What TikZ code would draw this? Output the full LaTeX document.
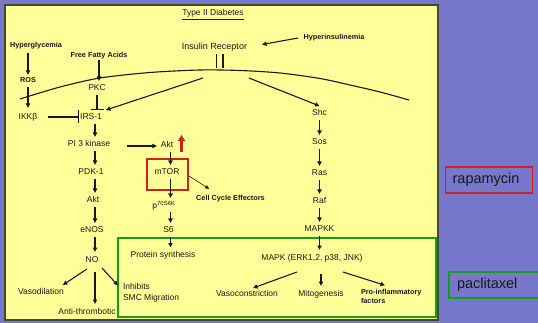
\documentclass[tikz,border=0pt]{standalone}
\usepackage{fontspec}
\setmainfont{Liberation Sans}
\usetikzlibrary{arrows.meta,calc}
\definecolor{bgpurple}{RGB}{119,119,204}
\definecolor{panelyellow}{RGB}{255,255,153}
\definecolor{boxgreen}{RGB}{20,160,20}
\definecolor{boxred}{RGB}{204,34,34}
\definecolor{panelborder}{RGB}{70,70,50}
\definecolor{txt}{RGB}{25,25,25}
\begin{document}
\begin{tikzpicture}[x=1pt,y=-1pt,
  lbl/.style={font=\fontsize{8.5}{10}\selectfont, text=txt, inner sep=0pt, outer sep=4pt, text height=6pt, text depth=0pt},
  blbl/.style={font=\fontsize{7.3}{9}\selectfont\bfseries, text=txt, inner sep=0pt, outer sep=2.5pt, text height=5.2pt, text depth=0pt},
  mlbl/.style={font=\fontsize{8.5}{11}\selectfont, text=txt, align=left, inner sep=0pt, outer sep=0pt},
  mblbl/.style={font=\fontsize{7.3}{9}\selectfont\bfseries, text=txt, align=left, inner sep=0pt, outer sep=0pt},
  arr/.style={-{Triangle[length=4.5pt,width=4.2pt]}, line width=1.1pt, draw=txt},
  thinarr/.style={-{Triangle[length=4pt,width=3.4pt]}, line width=0.6pt, draw=txt},
  inhib/.style={-{Bar[width=13pt]}, line width=1.2pt, draw=txt},
  redbox/.style={draw=boxred, line width=1.6pt, inner sep=0pt, outer sep=0pt},
  bigbox/.style={font=\fontsize{14.5}{17}\selectfont, text=txt, anchor=west, align=left, minimum height=26pt, text height=10.5pt, text depth=3pt}
]
\useasboundingbox (0,0) rectangle (538,323);
\fill[bgpurple] (0,0) rectangle (538,323);
\draw[panelborder, fill=panelyellow, line width=1.2pt] (5,5) rectangle (438,320);

% membrane
\draw[line width=1.1pt, txt] plot[smooth] coordinates {(20,99) (60,87) (100,78) (150,72.5) (200,70) (240,70.5) (280,73) (320,78.5) (350,85) (380,92) (409,100)};

% column coordinates
\coordinate (colL) at (95,0);
\coordinate (colM) at (170.5,0);

% nodes
\node[lbl] (title) at (213,13) {\underline{Type II Diabetes}};
\node[blbl] (hyperg) at (36,45) {Hyperglycemia};
\node[blbl] (ros) at (28,80) {ROS};
\node[lbl] (ikk) at (28,117) {IKKβ};
\node[blbl] (ffa) at (99,55) {Free Fatty Acids};
\node[lbl] (pkc) at (97,88) {PKC};
\node[lbl, font=\fontsize{9}{11}\selectfont] (ins) at (214.5,47) {Insulin Receptor};
\node[blbl] (hypi) at (334,37) {Hyperinsulinemia};
\node[lbl] (irs) at (91,117) {IRS-1};
\node[lbl] (pik) at (89,144) {PI 3 kinase};
\node[lbl] (pdk) at (91,172) {PDK-1};
\node[lbl] (akta) at (93,200) {Akt};
\node[lbl] (enos) at (92,230) {eNOS};
\node[lbl] (no) at (92,259) {NO};
\node[lbl] (vaso) at (41,291) {Vasodilation};
\node[lbl] (anti) at (87,311) {Anti-thrombotic};
\node[mlbl, anchor=west] (smc) at (123,292.5) {Inhibits\\SMC Migration};
\node[lbl] (aktb) at (167,145) {Akt};
\node[lbl] (mtor) at (167,172) {mTOR};
\node[redbox, minimum width=41pt, minimum height=31pt] (mtorbox) at (167.5,174.5) {};
\node[lbl] (p70) at (164,205) {p\textsuperscript{70S6K}};
\node[lbl] (s6) at (168.5,230) {S6};
\node[lbl] (prot) at (163,254.5) {Protein synthesis};
\node[blbl] (cce) at (230.5,198) {Cell Cycle Effectors};
\node[lbl] (shc) at (319.5,113) {Shc};
\node[lbl] (sos) at (319.5,142) {Sos};
\node[lbl] (ras) at (319.5,173) {Ras};
\node[lbl] (raf) at (319.5,201) {Raf};
\node[lbl] (mapkk) at (319.5,229) {MAPKK};
\node[lbl] (mapk) at (312,257) {MAPK (ERK1,2, p38, JNK)};
\node[lbl] (vasoc) at (247,293) {Vasoconstriction};
\node[lbl] (mito) at (321,293) {Mitogenesis};
\node[mblbl, anchor=west] (proinf) at (361,296.5) {Pro-inflammatory\\factors};

% green box
\node[draw=boxgreen, line width=2.5pt, minimum width=318pt, minimum height=79pt, inner sep=0pt, outer sep=0pt] (grn) at (277,277.5) {};

% side boxes
\node[bigbox, draw=boxred, line width=1.3pt, text width=73pt, inner xsep=7pt] (rapa) at (445,180) {rapamycin};
\node[bigbox, draw=boxgreen, line width=2pt, text width=90pt, inner xsep=8pt] (pacl) at (448,285) {paclitaxel};

% receptor
\coordinate (b1t) at (216.5,54); \coordinate (b1b) at (216.5,68);
\coordinate (b2t) at (223,54); \coordinate (b2b) at (223,68);
\draw[line width=1.5pt, txt] (b1t) -- (b1b);
\draw[line width=1.5pt, txt] (b2t) -- (b2b);
\draw[arr] ($(hypi.west)+(-3,1)$) -- ($(ins.east)+(11,-2.5)$);
\coordinate (rl) at (203,78);
\coordinate (rr) at (249,78);
\draw[arr] (rl) -- (irs.north east);
\draw[arr] (rr) -- (shc.north);

% left side
\draw[arr] ($(hyperg.south -| ros)+(0,3)$) -- (ros.north);
\draw[arr] ($(ros.south)+(0,2)$) -- ($(ikk.north)+(0,-2)$);
\draw[inhib] ($(ikk.east)+(7,0)$) -- ($(irs.west)+(3,0)$);
\draw[arr] (ffa.south) -- (ffa.south |- pkc.north);
\draw[inhib] (pkc.south) -- (pkc.south |- irs.north);
\draw[arr] (irs.south -| colL) -- (pik.north -| colL);
\draw[arr] (pik.south -| colL) -- (pdk.north -| colL);
\draw[arr] (pdk.south -| colL) -- (akta.north -| colL);
\draw[arr] (akta.south -| colL) -- (enos.north -| colL);
\draw[arr] (enos.south -| colL) -- (no.north -| colL);
\draw[arr] ($(no.south)+(-5,3)$) -- ($(vaso.north east)+(-5,1)$);
\draw[arr] ($(no.south -| colL)+(0,6)$) -- (anti.north -| colL);
\draw[arr] ($(no.south)+(10,2)$) -- ($(smc.west)+(-5,-7)$);

% middle column
\draw[arr] ($(pik.east |- aktb.west)+(13,1)$) -- ($(aktb.west)+(0,1)$);
\coordinate (rua) at (181.5,152);
\coordinate (rub) at (181.5,135);
\draw[boxred, line width=2.2pt, -{Triangle[length=6pt,width=7pt]}] (rua) -- (rub);
\draw[arr] (aktb.south -| colM) -- (mtor.north -| colM);
\draw[arr] (mtor.south -| colM) -- (p70.north -| colM);
\draw[arr] (p70.south -| colM) -- (s6.north -| colM);
\draw[arr] (s6.south -| colM) -- (prot.north -| colM);
\draw[thinarr] ($(mtorbox.east)+(1,1.5)$) -- ($(cce.north west)+(15.5,-4)$);

% right column
\draw[arr] (shc) -- (sos);
\draw[arr] (sos) -- (ras);
\draw[arr] (ras) -- (raf);
\draw[arr] (raf) -- (mapkk);
\draw[arr] (mapkk.south) -- (mapkk.south |- mapk.north);
\draw[arr] ($(mapk.south)+(-15,8)$) -- ($(vasoc.north)+(6,2)$);
\draw[arr] ($(mapk.south -| mito.north)+(0,10)$) -- (mito.north);
\draw[arr] ($(mapk.south)+(31,8)$) -- ($(proinf.north west)+(24,-4)$);
\end{tikzpicture}
\end{document}
